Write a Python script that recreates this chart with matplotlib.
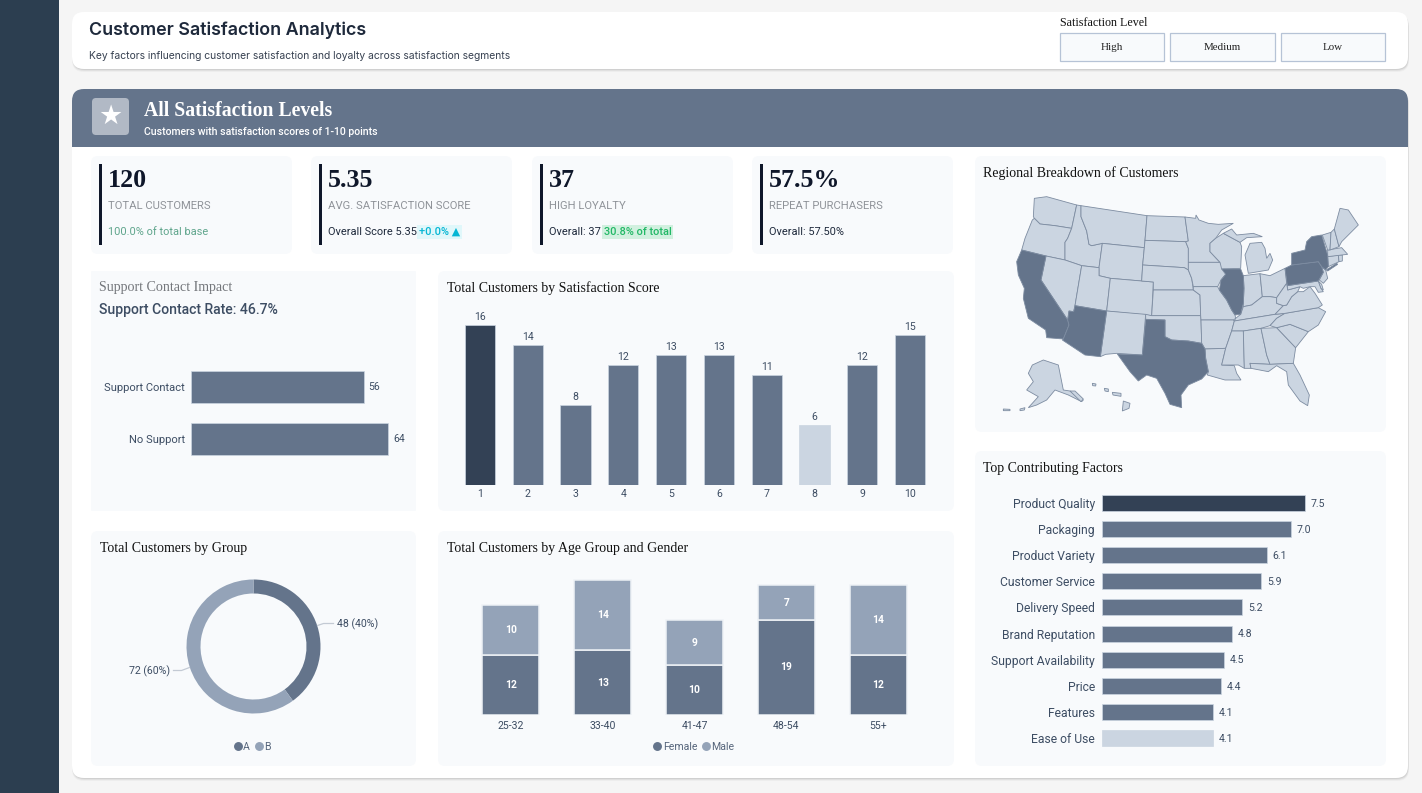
import matplotlib
matplotlib.use("Agg")
import matplotlib.pyplot as plt
from matplotlib.patches import FancyBboxPatch, Polygon, Rectangle

W, H = 1422, 793

SERIF = "Liberation Serif"
BODY = ["Roboto", "DejaVu Sans"]
INTER = "Inter"

DARK = "#334155"
MID = "#64748b"
SOFT = "#94a3b8"
PALE = "#cbd5e1"
CARD = "#f8fafc"
INK = "#1e293b"

# chart values
score_labels = ["1", "2", "3", "4", "5", "6", "7", "8", "9", "10"]
score_values = [16, 14, 8, 12, 13, 13, 11, 6, 12, 15]
score_colors = [DARK, MID, MID, MID, MID, MID, MID, PALE, MID, MID]

support_labels = ["Support Contact", "No Support"]
support_values = [56, 64]

group_labels = ["A", "B"]
group_values = [48, 72]
group_text = ["48 (40%)", "72 (60%)"]

age_labels = ["25-32", "33-40", "41-47", "48-54", "55+"]
age_female = [12, 13, 10, 19, 12]
age_male = [10, 14, 9, 7, 14]

factor_labels = ["Product Quality", "Packaging", "Product Variety", "Customer Service", "Delivery Speed",
                 "Brand Reputation", "Support Availability", "Price", "Features", "Ease of Use"]
factor_values = [7.5, 7.0, 6.1, 5.9, 5.2, 4.8, 4.5, 4.4, 4.1, 4.1]
factor_colors = [DARK] + [MID] * 8 + [PALE]

kpi_values = ["120", "5.35", "37", "57.5%"]
kpi_names = ["TOTAL CUSTOMERS", "AVG. SATISFACTION SCORE", "HIGH LOYALTY", "REPEAT PURCHASERS"]
slicer_options = ["High", "Medium", "Low"]

dark_states = ["CA", "AZ", "TX", "IL", "NY", "LI", "PA"]

# state outlines
states = {
    "WA": [(178,130),(215,125),(305,150),(290,220),(240,212),(195,207),(178,190),(175,185)],
    "OR": [(178,190),(195,207),(240,212),(290,220),(278,250),(270,262),(270,315),(213,303),(140,285),(150,250),(172,195)],
    "ID": [(305,150),(318,152),(318,185),(335,228),(342,268),(350,272),(382,265),(372,338),(320,332),(270,315),(270,262),(278,250),(290,220)],
    "MT": [(318,152),(516,182),(510,256),(508,278),(382,265),(350,272),(342,268),(335,228),(318,185)],
    "WY": [(382,265),(508,278),(503,330),(500,378),(406,370),(372,362),(372,338)],
    "NV": [(213,303),(270,315),(320,332),(300,452),(296,470),(282,468),(278,495),(198,375)],
    "CA": [(140,285),(213,303),(198,375),(278,495),(282,510),(265,552),(215,548),(212,525),(160,490),(145,430),(148,400),(130,360),(125,320)],
    "UT": [(320,332),(372,338),(372,362),(406,370),(395,468),(300,452)],
    "AZ": [(300,452),(395,468),(376,605),(330,600),(262,555),(265,552),(282,510),(278,495),(282,468),(296,470)],
    "CO": [(406,370),(500,378),(535,381),(530,482),(395,468)],
    "NM": [(395,468),(512,478),(502,600),(425,595),(392,598),(376,605)],
    "ND": [(516,182),(630,186),(640,258),(632,260),(510,256)],
    "SD": [(510,256),(632,260),(640,280),(640,322),(640,345),(628,338),(503,330),(508,278)],
    "NE": [(503,330),(628,338),(640,345),(650,370),(655,405),(535,405),(535,381),(500,378)],
    "KS": [(535,405),(655,405),(675,420),(677,482),(530,482)],
    "OK": [(512,478),(530,482),(677,482),(678,495),(680,565),(640,558),(590,555),(570,545),(570,495),(512,493)],
    "TX": [(512,493),(570,495),(570,545),(590,555),(640,558),(680,565),(690,582),(692,610),(700,650),(680,672),(640,690),(618,720),(620,758),(585,748),(570,715),(545,670),(515,660),(490,678),(465,650),(427,597),(502,600)],
    "MN": [(630,186),(662,190),(663,180),(672,195),(700,205),(730,208),(775,205),(740,225),(722,250),(705,265),(705,290),(735,322),(640,322),(640,280),(632,260),(640,258)],
    "IA": [(640,322),(735,322),(750,345),(752,358),(738,375),(728,395),(655,395),(650,370),(640,345)],
    "MO": [(655,395),(728,395),(733,405),(755,435),(770,465),(780,480),(782,490),(775,495),(678,495),(677,482),(675,420),(655,405)],
    "AR": [(678,495),(775,495),(778,498),(770,528),(752,580),(690,582),(680,565)],
    "LA": [(690,582),(752,580),(740,630),(778,632),(785,655),(798,675),(750,675),(697,660),(700,650),(692,610)],
    "WI": [(705,265),(722,250),(745,235),(795,262),(800,275),(797,340),(740,342),(735,322),(705,290)],
    "IL": [(740,342),(797,342),(805,362),(807,400),(805,445),(797,478),(780,480),(770,465),(755,435),(733,405),(738,375),(752,358)],
    "IN": [(805,362),(855,356),(862,425),(830,450),(805,455),(805,445),(807,400)],
    "MI": [(820,355),(880,345),(893,315),(885,295),(875,310),(870,280),(860,262),(825,265),(810,300)],
    "UP": [(745,235),(770,222),(785,240),(835,235),(862,245),(815,248),(795,262)],
    "OH": [(855,356),(885,362),(930,340),(935,385),(905,428),(885,425),(862,425)],
    "KY": [(782,490),(797,478),(805,455),(830,450),(862,425),(885,425),(905,428),(905,445),(925,452),(900,478),(778,498)],
    "TN": [(770,528),(778,498),(900,478),(930,475),(905,490),(885,512),(858,520),(805,528)],
    "MS": [(770,528),(805,528),(808,640),(790,630),(740,630),(752,580)],
    "AL": [(805,528),(858,520),(875,600),(885,628),(825,625),(828,640),(808,640)],
    "GA": [(858,520),(905,518),(940,555),(962,578),(955,625),(885,628),(875,600)],
    "FL": [(825,625),(885,628),(955,625),(975,660),(1003,720),(998,752),(975,738),(940,690),(935,650),(905,632),(880,650),(828,640)],
    "SC": [(905,518),(945,508),(1000,530),(962,578),(940,555)],
    "NC": [(930,475),(1030,458),(1052,470),(1030,510),(1000,530),(945,508),(905,518),(885,512),(905,490)],
    "VA": [(900,478),(925,452),(935,450),(950,425),(968,410),(985,410),(1005,395),(1020,415),(1042,450),(1030,458),(930,475)],
    "WV": [(905,428),(935,385),(938,405),(975,395),(968,410),(950,425),(935,450),(925,452),(905,445)],
    "PA": [(930,340),(950,330),(1030,320),(1040,335),(1045,352),(1030,378),(937,392)],
    "NY": [(950,330),(950,295),(990,285),(995,260),(1010,245),(1040,240),(1058,300),(1060,335),(1052,345),(1040,335),(1030,320)],
    "LI": [(1054,345),(1085,325),(1088,328),(1058,348)],
    "NJ": [(1040,335),(1052,345),(1058,370),(1045,385),(1033,375),(1045,352)],
    "MD": [(937,392),(1030,378),(1038,400),(1045,410),(1030,412),(1020,395),(1005,395),(985,400),(975,395),(938,405)],
    "DE": [(1030,378),(1040,388),(1045,405),(1038,400)],
    "CT": [(1058,305),(1090,300),(1092,320),(1060,335)],
    "RI": [(1090,300),(1102,300),(1102,318),(1092,320)],
    "MA": [(1058,285),(1100,278),(1118,298),(1100,300),(1058,305)],
    "VT": [(1042,240),(1068,232),(1065,285),(1058,285)],
    "NH": [(1068,232),(1078,222),(1092,275),(1065,285)],
    "ME": [(1078,222),(1095,160),(1120,165),(1150,210),(1100,260),(1092,275)],
    "AK": [(172,630),(205,615),(250,630),(265,705),(285,708),(325,735),(320,740),(280,720),(240,705),(215,735),(185,750),(160,758),(190,725),(155,705),(175,680),(160,655)],
    "AK2": [(285,708),(300,708),(325,732),(318,740)],
    "AK3": [(135,762),(150,758),(148,765),(135,767)],
    "AK4": [(85,762),(105,763),(105,767),(85,767)],
    "HI": [(445,738),(465,745),(462,760),(442,768)],
    "HI2": [(412,712),(438,715),(438,724),(414,720)],
    "HI3": [(388,700),(400,702),(400,710),(390,708)],
    "HI4": [(352,685),(363,687),(362,693),(353,692)],
}

fig = plt.figure(figsize=(W / 100, H / 100), dpi=100, facecolor="#f5f5f5")

# full figure axes in pixel coordinates, for the cards and loose text
page = fig.add_axes([0, 0, 1, 1])
page.set_xlim(0, W)
page.set_ylim(H, 0)
page.axis("off")


def chart_ax(x0, y0, x1, y1):
    ax = fig.add_axes([x0 / W, 1 - y1 / H, (x1 - x0) / W, (y1 - y0) / H])
    ax.patch.set_alpha(0)
    for s in ax.spines.values():
        s.set_visible(False)
    return ax


def box(x0, y0, x1, y1, color, radius=6, edge="none", lw=0, zorder=1, alpha=1):
    p = FancyBboxPatch((x0 + radius, y0 + radius), x1 - x0 - 2 * radius, y1 - y0 - 2 * radius,
                       boxstyle="round,pad=%f,rounding_size=%f" % (radius, radius),
                       fc=color, ec=edge, lw=lw, zorder=zorder, alpha=alpha)
    page.add_patch(p)


def label(x, y, s, size, color=INK, family=BODY, weight="normal", ha="left", **kw):
    return page.text(x, y + 1.6, s, fontsize=size * 0.72, color=color, family=family, weight=weight,
                     ha=ha, va="center", zorder=6, **kw)


def shadow(x0, y0, x1, y1):
    for d, a in [(3, 0.03), (2, 0.05), (1, 0.07)]:
        box(x0 + 1 - d / 3, y0 + 2, x1 + d / 3, y1 + d, "#000000", radius=12, alpha=a, zorder=1)


# sidebar
page.add_patch(Rectangle((0, 0), 59, H, fc="#2c3e50", ec="none"))

# top panel
shadow(72, 12, 1408, 69)
box(72, 12, 1408, 69, "white", radius=12, zorder=2)
label(89, 28.5, "Customer Satisfaction Analytics", 17.9, INK, INTER, "semibold")
label(89, 54.2, "Key factors influencing customer satisfaction and loyalty across satisfaction segments",
      10.35, "#374151", INTER)
label(1060, 21.5, "Satisfaction Level", 12, "#111111", SERIF)
for i, opt in enumerate(slicer_options):
    x0 = 1059.5 + i * 110.7
    page.add_patch(Rectangle((x0, 32.5), 104.5, 28, fc=CARD, ec="#b6c3d6", lw=0.9, zorder=3))
    label(x0 + 52, 45.5, opt, 11, "#222222", SERIF, ha="center")

# main panel and banner
shadow(72, 89, 1408, 778)
box(72, 89, 1408, 778, "white", radius=12, zorder=2)
box(72, 89, 1408, 160, MID, radius=12, zorder=2.1)
page.add_patch(Rectangle((72, 147), 1336, 15, fc="white", ec="none", zorder=2.2))
box(92, 98, 129, 135, "white", radius=4, alpha=0.5, zorder=3)
label(110.5, 115, "\u2605", 27, "white", "DejaVu Sans", ha="center")
label(144, 109, "All Satisfaction Levels", 19.8, "white", SERIF, "bold")
label(144, 130.2, "Customers with satisfaction scores of 1-10 points", 10.5, "white", BODY, "medium")

# cards
for x0, y0, x1, y1, r in [(91, 156, 292, 254, 7), (311, 156, 512, 254, 7), (532, 156, 733, 254, 7),
                          (752, 156, 953, 254, 7), (91, 271, 416, 511, 1), (438, 271, 954, 511, 7),
                          (91, 531, 416, 766, 7), (438, 531, 954, 766, 7), (975, 156, 1386, 432, 7),
                          (975, 451, 1386, 766, 7)]:
    box(x0, y0, x1, y1, CARD, radius=r, zorder=3)

# kpis
kpi_x = [99, 319, 540, 760]
for x, val, name in zip(kpi_x, kpi_values, kpi_names):
    page.add_patch(Rectangle((x, 164), 3, 81, fc="#0f172a", ec="none", zorder=4))
    label(x + 9, 178.5, val, 26, "#0f172a", SERIF, "bold")
    label(x + 9, 204, name, 11.3, "#8f9399")

label(108, 230.5, "100.0% of total base", 11, "#5fa58c")
label(328, 230.5, "Overall Score 5.35", 11, INK)
label(419, 230.5, "+0.0% \u25b2", 11, "#06b6d4", BODY, weight="medium",
      bbox=dict(fc="#e0f7fa", ec="none", pad=1.2))
label(549, 230.5, "Overall: 37", 11, INK)
label(604, 230.5, "30.8% of total", 11, "#22b866", weight="medium", bbox=dict(fc="#d1f0df", ec="none", pad=1.2))
label(769, 230.5, "Overall: 57.50%", 11, INK)

# card titles
label(99, 286, "Support Contact Impact", 14, "#74777c", SERIF)
label(99, 308, "Support Contact Rate: 46.7%", 14, "#3d4d63", BODY, "medium")
label(447, 286.5, "Total Customers by Satisfaction Score", 13.9, "#111111", SERIF)
label(100, 546.5, "Total Customers by Group", 13.9, "#111111", SERIF)
label(447, 546.5, "Total Customers by Age Group and Gender", 13.9, "#111111", SERIF)
label(983, 171.5, "Regional Breakdown of Customers", 13.9, "#111111", SERIF)
label(983, 466.5, "Top Contributing Factors", 13.9, "#111111", SERIF)

tick_font = dict(fontsize=7.6, color="#3d4d63", family=BODY)

# support contact bars
ax = chart_ax(190.5, 361, 407, 465)
ypos = list(range(len(support_values)))
ax.barh(ypos, support_values, height=0.6, color=MID, edgecolor=PALE, linewidth=0.5)
ax.set_xlim(0, 70)
ax.set_ylim(1.5, -0.5)
ax.set_xticks([])
ax.set_yticks(ypos, support_labels, **{**tick_font, "fontsize": 8.0})
ax.tick_params(axis="y", length=0, pad=4)
for y, v in zip(ypos, support_values):
    ax.text(v + 1.6, y, str(v), va="center", **tick_font)

# satisfaction score columns
ax = chart_ax(456, 305, 934, 485)
xpos = list(range(len(score_values)))
ax.bar(xpos, score_values, width=0.63, color=score_colors, edgecolor=PALE, linewidth=0.5)
ax.set_xlim(-0.5, 9.5)
ax.set_ylim(0, 18)
ax.set_yticks([])
ax.set_xticks(xpos, score_labels, **tick_font)
ax.tick_params(axis="x", length=0, pad=3)
for x, v in zip(xpos, score_values):
    ax.text(x, v + 0.3, str(v), ha="center", va="bottom", **tick_font)

# donut
ax = chart_ax(253.5 - 110, 646.5 - 110, 253.5 + 110, 646.5 + 110)
ax.pie(group_values, colors=[MID, SOFT], startangle=90, counterclock=False, radius=67,
       wedgeprops=dict(width=14, linewidth=0))
ax.set_xlim(-110, 110)
ax.set_ylim(-110, 110)
ax.plot([64, 70, 80], [21, 23, 23], color="#c3cad4", lw=0.9)
ax.plot([-64, -72, -80], [-21, -24, -24], color="#c3cad4", lw=0.9)
ax.text(83.5, 22.5, group_text[0], va="center", **tick_font)
ax.text(-83.5, -24.5, group_text[1], va="center", ha="right", **tick_font)
page.plot([237.5], [746], "o", color=MID, ms=5.4, zorder=6)
label(243, 745, group_labels[0], 10.5, "#56657b")
page.plot([258.5], [746], "o", color=SOFT, ms=5.4, zorder=6)
label(264, 745, group_labels[1], 10.5, "#56657b")

# age and gender stacks
ax = chart_ax(465, 565, 924, 715)
xpos = list(range(len(age_labels)))
ax.bar(xpos, age_female, width=0.62, color=MID, edgecolor="#eef2f6", linewidth=1.1)
ax.bar(xpos, age_male, width=0.62, bottom=age_female, color=SOFT, edgecolor="#eef2f6", linewidth=1.1)
ax.set_xlim(-0.5, 4.5)
ax.set_ylim(0, 30)
ax.set_yticks([])
ax.set_xticks(xpos, age_labels, **tick_font)
ax.tick_params(axis="x", length=0, pad=4)
for x, f, m in zip(xpos, age_female, age_male):
    ax.text(x, f / 2, str(f), ha="center", va="center", color="white", fontsize=7.4, family=BODY, weight="bold")
    ax.text(x, f + m / 2, str(m), ha="center", va="center", color="white", fontsize=7.4, family=BODY, weight="bold")
page.plot([657], [746], "o", color=MID, ms=5.4, zorder=6)
label(663, 745, "Female", 10.5, "#56657b")
page.plot([705.5], [746], "o", color=SOFT, ms=5.4, zorder=6)
label(711.5, 745, "Male", 10.5, "#56657b")

# contributing factors
ax = chart_ax(1102, 490, 1372, 751)
ypos = list(range(len(factor_values)))
ax.barh(ypos, factor_values, height=0.61, color=factor_colors, edgecolor=PALE, linewidth=0.5)
ax.set_xlim(0, 10)
ax.set_ylim(9.5, -0.5)
ax.set_xticks([])
ax.set_yticks(ypos, factor_labels, fontsize=8.7, color="#3d4d63", family=BODY)
ax.tick_params(axis="y", length=0, pad=5)
for y, v in zip(ypos, factor_values):
    ax.text(v + 0.22, y + 0.03, "%.1f" % v, va="center", **tick_font)

# map, in the pixel grid of a 3x crop of the card
ax = chart_ax(975, 155, 1387, 435)
ax.set_xlim(0, 1236)
ax.set_ylim(840, 0)
ax.set_xticks([])
ax.set_yticks([])
for code, outline in states.items():
    fill = MID if code in dark_states else PALE
    ax.add_patch(Polygon(outline, closed=True, fc=fill, ec="#7d8ca1", lw=0.6,
                         zorder=3 if code in dark_states else 2))

fig.savefig("out.png", dpi=100, facecolor=fig.get_facecolor())
